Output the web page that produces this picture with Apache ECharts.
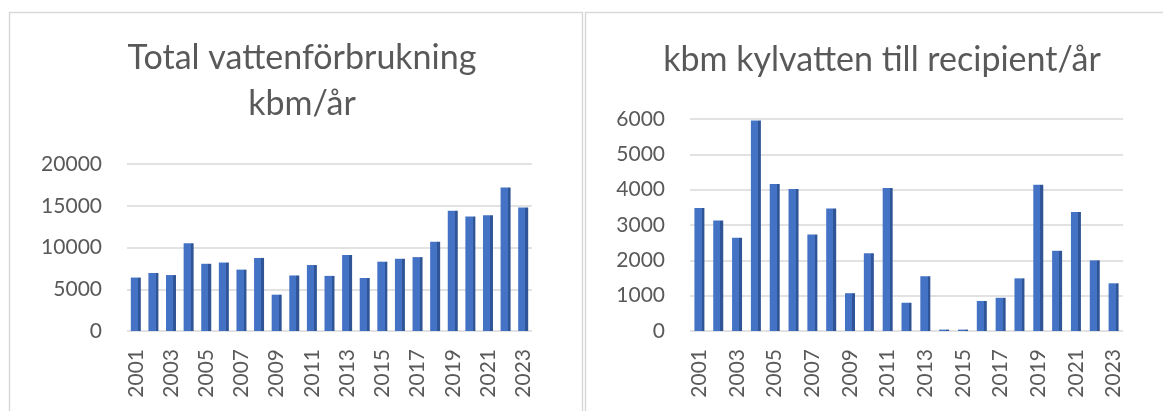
<!DOCTYPE html>
<html>
<head>
<meta charset="utf-8">
<script src="https://cdn.jsdelivr.net/npm/echarts@6/dist/echarts.min.js"></script>
<style>html,body{margin:0;padding:0;background:#fff}#c{width:1163px;height:411px}</style>
</head>
<body>
<div id="c"></div>
<script>
const years = ['2001','2002','2003','2004','2005','2006','2007','2008','2009','2010','2011','2012','2013','2014','2015','2016','2017','2018','2019','2020','2021','2022','2023'];
const totalUse = [6400, 6950, 6700, 10500, 8050, 8200, 7350, 8750, 4350, 6650, 7900, 6600, 9100, 6350, 8300, 8650, 8850, 10700, 14400, 13700, 13850, 17200, 14800];
const coolingWater = [3480, 3130, 2640, 5960, 4160, 4020, 2730, 3470, 1070, 2200, 4050, 800, 1550, 40, 40, 850, 940, 1490, 4140, 2270, 3370, 2000, 1350];
const leftTitle = 'Total vattenförbrukning\nkbm/år';
const rightTitle = 'kbm kylvatten till recipient/år';

const FONT = 'Lato, "Open Sans", sans-serif';
const TXT = '#595959';
const barColor = {
  type: 'linear', x: 0, y: 0, x2: 1, y2: 0,
  colorStops: [
    {offset: 0, color: '#4472C4'}, {offset: 0.72, color: '#4472C4'},
    {offset: 0.72, color: '#2F5597'}, {offset: 1, color: '#2F5597'}
  ]
};
function xAxis(gi){
  return {
    type: 'category', gridIndex: gi, data: years,
    axisLine: {show: false}, axisTick: {show: false},
    axisLabel: {rotate: 90, interval: 1, margin: 18, color: TXT, fontFamily: FONT, fontSize: 21}
  };
}
function yAxis(gi, max, interval){
  return {
    type: 'value', gridIndex: gi, min: 0, max: max, interval: interval,
    axisLine: {show: false}, axisTick: {show: false},
    splitLine: {lineStyle: {color: '#d9d9d9', width: 1.5}},
    axisLabel: {margin: 25, color: TXT, fontFamily: FONT, fontSize: 21, padding: [12,0,0,0],
      formatter: function(v){ return String(v); }}
  };
}
const chart = echarts.init(document.getElementById('c'));
chart.setOption({
  animation: false,
  title: [
    {text: leftTitle, left: 297, top: 30, textAlign: 'center',
     textStyle: {fontFamily: FONT, fontWeight: 'normal', fontSize: 34, color: TXT, lineHeight: 46}},
    {text: rightTitle, left: 877, top: 32, textAlign: 'center',
     textStyle: {fontFamily: FONT, fontWeight: 'normal', fontSize: 34, color: TXT, lineHeight: 46}}
  ],
  graphic: [
    {type: 'rect', shape: {x: 9.5, y: 12.5, width: 573, height: 420}, style: {fill: 'none', stroke: '#d9d9d9', lineWidth: 1.5}, silent: true},
    {type: 'rect', shape: {x: 585.5, y: 12.5, width: 600, height: 420}, style: {fill: 'none', stroke: '#d9d9d9', lineWidth: 1.5}, silent: true}
  ],
  grid: [
    {left: 127, top: 164, width: 405, height: 167},
    {left: 690, top: 119, width: 433, height: 212}
  ],
  xAxis: [xAxis(0), xAxis(1)],
  yAxis: [yAxis(0, 20000, 5000), yAxis(1, 6000, 1000)],
  series: [
    {type: 'bar', xAxisIndex: 0, yAxisIndex: 0, data: totalUse, barWidth: 10, itemStyle: {color: barColor}},
    {type: 'bar', xAxisIndex: 1, yAxisIndex: 1, data: coolingWater, barWidth: 10, itemStyle: {color: barColor}}
  ]
});
</script>
</body>
</html>
